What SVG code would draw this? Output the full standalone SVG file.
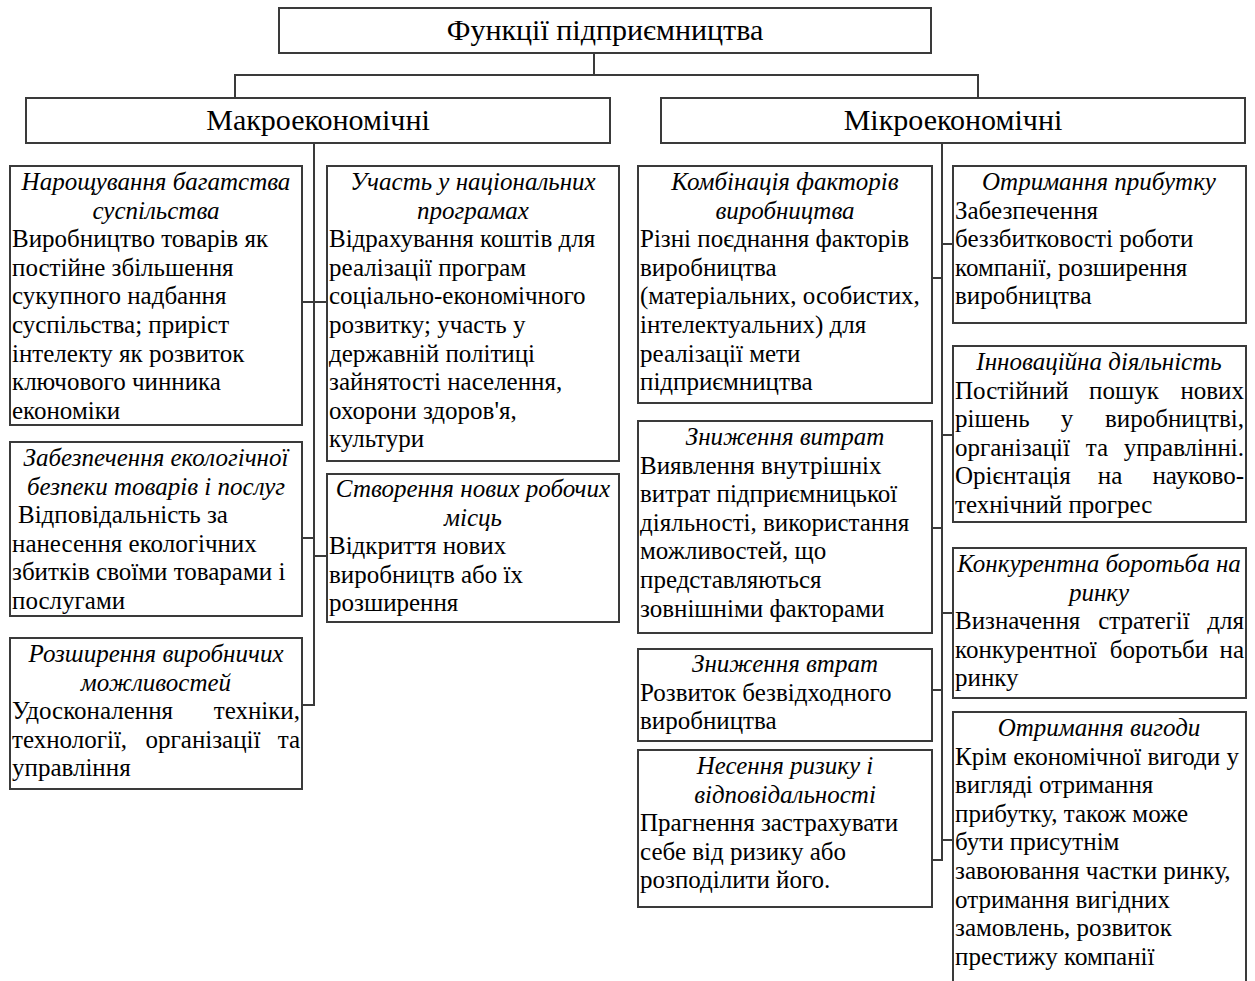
<svg xmlns="http://www.w3.org/2000/svg" width="1255" height="981" viewBox="0 0 1255 981">
<style>
.box{fill:#fff;stroke:#3a3a3a;stroke-width:2}
.t{font-family:"Liberation Serif","Times New Roman",serif;font-size:25px;fill:#000}
.h{font-style:italic;text-anchor:middle}
.big{font-size:30px;text-anchor:middle}
.e{text-anchor:end}
.m{text-anchor:middle}
.conn line{stroke:#3a3a3a;stroke-width:2}
</style>
<rect width="1255" height="981" fill="#fff"/>
<g class="conn">
<line x1="594" y1="53" x2="594" y2="75"/>
<line x1="234" y1="75" x2="979" y2="75"/>
<line x1="235" y1="75" x2="235" y2="98"/>
<line x1="978" y1="75" x2="978" y2="98"/>
<line x1="314" y1="143" x2="314" y2="706"/>
<line x1="302" y1="302" x2="327" y2="302"/>
<line x1="302" y1="538" x2="314" y2="538"/>
<line x1="314" y1="556" x2="327" y2="556"/>
<line x1="302" y1="705" x2="315" y2="705"/>
<line x1="942" y1="143" x2="942" y2="861"/>
<line x1="942" y1="244" x2="953" y2="244"/>
<line x1="932" y1="278" x2="942" y2="278"/>
<line x1="942" y1="435" x2="953" y2="435"/>
<line x1="932" y1="528" x2="942" y2="528"/>
<line x1="942" y1="613" x2="953" y2="613"/>
<line x1="932" y1="690" x2="942" y2="690"/>
<line x1="942" y1="840" x2="953" y2="840"/>
<line x1="932" y1="860" x2="943" y2="860"/>
</g>
<g id="root">
<rect class="box" x="279" y="8" width="652" height="45"/>
<text class="t big" x="605" y="40">Функції підприємництва</text>
</g>
<g id="macro">
<rect class="box" x="26" y="98" width="584" height="45"/>
<text class="t big" x="318" y="130">Макроекономічні</text>
</g>
<g id="micro">
<rect class="box" x="661" y="98" width="584" height="45"/>
<text class="t big" x="953" y="130">Мікроекономічні</text>
</g>
<g id="n1">
<rect class="box" x="10" y="166" width="292" height="259"/>
<text class="t h" x="156" y="190"><tspan x="156">Нарощування багатства</tspan><tspan x="156" dy="28.6">суспільства</tspan></text>
<text class="t" x="12" y="247.2"><tspan x="12">Виробництво товарів як</tspan><tspan x="12" dy="28.6">постійне збільшення</tspan><tspan x="12" dy="28.6">сукупного надбання</tspan><tspan x="12" dy="28.6">суспільства; приріст</tspan><tspan x="12" dy="28.6">інтелекту як розвиток</tspan><tspan x="12" dy="28.6">ключового чинника</tspan><tspan x="12" dy="28.6">економіки</tspan></text>
</g>
<g id="n2">
<rect class="box" x="10" y="442" width="292" height="174"/>
<text class="t h" x="156" y="466"><tspan x="156">Забезпечення екологічної</tspan><tspan x="156" dy="28.6">безпеки товарів і послуг</tspan></text>
<text class="t" x="18" y="523.2"><tspan x="18">Відповідальність за</tspan><tspan x="12" dy="28.6">нанесення екологічних</tspan><tspan x="12" dy="28.6">збитків своїми товарами і</tspan><tspan x="12" dy="28.6">послугами</tspan></text>
</g>
<g id="n3">
<rect class="box" x="10" y="638" width="292" height="151"/>
<text class="t h" x="156" y="662"><tspan x="156">Розширення виробничих</tspan><tspan x="156" dy="28.6">можливостей</tspan></text>
<text class="t" x="12" y="719.2">Удосконалення</text>
<text class="t e" x="300" y="719.2">техніки,</text>
<text class="t" x="12" y="747.8">технології,</text>
<text class="t m" x="203" y="747.8">організації</text>
<text class="t e" x="300" y="747.8">та</text>
<text class="t" x="12" y="776.4">управління</text>
</g>
<g id="n4">
<rect class="box" x="327" y="166" width="292" height="295"/>
<text class="t h" x="473" y="190"><tspan x="473">Участь у національних</tspan><tspan x="473" dy="28.6">програмах</tspan></text>
<text class="t" x="329" y="247.2"><tspan x="329">Відрахування коштів для</tspan><tspan x="329" dy="28.6">реалізації програм</tspan><tspan x="329" dy="28.6">соціально-економічного</tspan><tspan x="329" dy="28.6">розвитку; участь у</tspan><tspan x="329" dy="28.6">державній політиці</tspan><tspan x="329" dy="28.6">зайнятості населення,</tspan><tspan x="329" dy="28.6">охорони здоров'я,</tspan><tspan x="329" dy="28.6">культури</tspan></text>
</g>
<g id="n5">
<rect class="box" x="327" y="474" width="292" height="148"/>
<text class="t h" x="473" y="497"><tspan x="473">Створення нових робочих</tspan><tspan x="473" dy="28.6">місць</tspan></text>
<text class="t" x="329" y="554.2"><tspan x="329">Відкриття нових</tspan><tspan x="329" dy="28.6">виробництв або їх</tspan><tspan x="329" dy="28.6">розширення</tspan></text>
</g>
<g id="n6">
<rect class="box" x="638" y="166" width="294" height="237"/>
<text class="t h" x="785" y="190"><tspan x="785">Комбінація факторів</tspan><tspan x="785" dy="28.6">виробництва</tspan></text>
<text class="t" x="640" y="247.2"><tspan x="640">Різні поєднання факторів</tspan><tspan x="640" dy="28.6">виробництва</tspan><tspan x="640" dy="28.6">(матеріальних, особистих,</tspan><tspan x="640" dy="28.6">інтелектуальних) для</tspan><tspan x="640" dy="28.6">реалізації мети</tspan><tspan x="640" dy="28.6">підприємництва</tspan></text>
</g>
<g id="n7">
<rect class="box" x="638" y="421" width="294" height="212"/>
<text class="t h" x="785" y="445">Зниження витрат</text>
<text class="t" x="640" y="473.6"><tspan x="640">Виявлення внутрішніх</tspan><tspan x="640" dy="28.6">витрат підприємницької</tspan><tspan x="640" dy="28.6">діяльності, використання</tspan><tspan x="640" dy="28.6">можливостей, що</tspan><tspan x="640" dy="28.6">представляються</tspan><tspan x="640" dy="28.6">зовнішніми факторами</tspan></text>
</g>
<g id="n8">
<rect class="box" x="638" y="649" width="294" height="92"/>
<text class="t h" x="785" y="672">Зниження втрат</text>
<text class="t" x="640" y="700.6"><tspan x="640">Розвиток безвідходного</tspan><tspan x="640" dy="28.6">виробництва</tspan></text>
</g>
<g id="n9">
<rect class="box" x="638" y="750" width="294" height="157"/>
<text class="t h" x="785" y="774"><tspan x="785">Несення ризику і</tspan><tspan x="785" dy="28.6">відповідальності</tspan></text>
<text class="t" x="640" y="831.2"><tspan x="640">Прагнення застрахувати</tspan><tspan x="640" dy="28.6">себе від ризику або</tspan><tspan x="640" dy="28.6">розподілити його.</tspan></text>
</g>
<g id="n10">
<rect class="box" x="953" y="166" width="293" height="157"/>
<text class="t h" x="1099" y="190">Отримання прибутку</text>
<text class="t" x="955" y="218.6"><tspan x="955">Забезпечення</tspan><tspan x="955" dy="28.6">беззбитковості роботи</tspan><tspan x="955" dy="28.6">компанії, розширення</tspan><tspan x="955" dy="28.6">виробництва</tspan></text>
</g>
<g id="n11">
<rect class="box" x="953" y="346" width="293" height="176"/>
<text class="t h" x="1099" y="370">Інноваційна діяльність</text>
<text class="t" x="955" y="398.6">Постійний</text>
<text class="t m" x="1124" y="398.6">пошук</text>
<text class="t e" x="1244" y="398.6">нових</text>
<text class="t" x="955" y="427.2">рішень</text>
<text class="t m" x="1067" y="427.2">у</text>
<text class="t e" x="1244" y="427.2">виробництві,</text>
<text class="t" x="955" y="455.8">організації</text>
<text class="t m" x="1097" y="455.8">та</text>
<text class="t e" x="1244" y="455.8">управлінні.</text>
<text class="t" x="955" y="484.4">Орієнтація</text>
<text class="t m" x="1110" y="484.4">на</text>
<text class="t e" x="1244" y="484.4">науково-</text>
<text class="t" x="955" y="513">технічний прогрес</text>
</g>
<g id="n12">
<rect class="box" x="953" y="548" width="293" height="150"/>
<text class="t h" x="1099" y="572"><tspan x="1099">Конкурентна боротьба на</tspan><tspan x="1099" dy="28.6">ринку</tspan></text>
<text class="t" x="955" y="629.2">Визначення</text>
<text class="t m" x="1144" y="629.2">стратегії</text>
<text class="t e" x="1244" y="629.2">для</text>
<text class="t" x="955" y="657.8">конкурентної</text>
<text class="t m" x="1159" y="657.8">боротьби</text>
<text class="t e" x="1244" y="657.8">на</text>
<text class="t" x="955" y="686.4">ринку</text>
</g>
<g id="n13">
<rect class="box" x="953" y="712" width="293" height="290"/>
<text class="t h" x="1099" y="736">Отримання вигоди</text>
<text class="t" x="955" y="764.6"><tspan x="955">Крім економічної вигоди у</tspan><tspan x="955" dy="28.6">вигляді отримання</tspan><tspan x="955" dy="28.6">прибутку, також може</tspan><tspan x="955" dy="28.6">бути присутнім</tspan><tspan x="955" dy="28.6">завоювання частки ринку,</tspan><tspan x="955" dy="28.6">отримання вигідних</tspan><tspan x="955" dy="28.6">замовлень, розвиток</tspan><tspan x="955" dy="28.6">престижу компанії</tspan></text>
</g>
</svg>
